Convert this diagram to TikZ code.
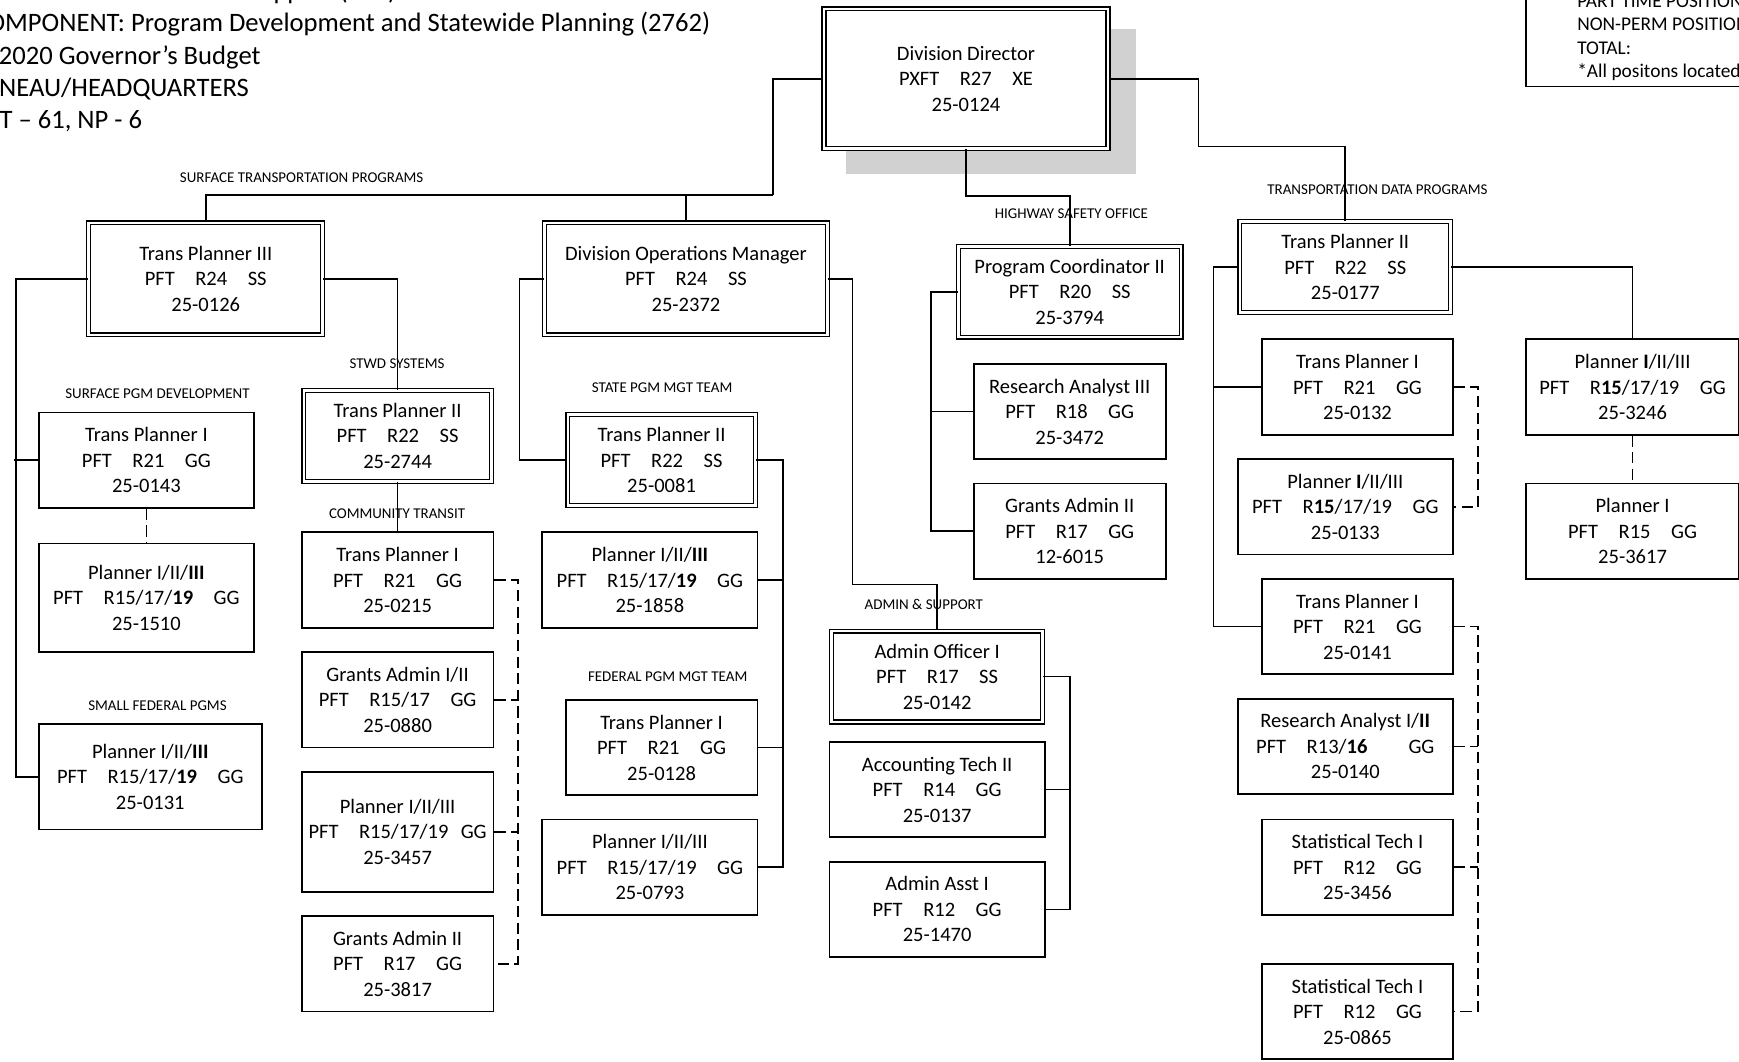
\documentclass[tikz,border=0pt]{standalone}
\usepackage{fontspec}
\setmainfont{Carlito}
\newcommand\possize{\fontsize{18.5}{23}\selectfont}
\newcommand\unitsize{\fontsize{13.5}{16}\selectfont}
\newcommand\gap{\hspace{1em}}
\tikzset{
  post/.style={draw, line width=1.6pt, fill=white, align=center, inner sep=0pt, font=\possize},
  lead/.style={post, double, double distance=2.4pt, line width=1.1pt},
  link/.style={line width=1.5pt},
  vacant/.style={line width=1.5pt, dash pattern=on 10pt off 5pt},
  unit/.style={font=\unitsize, inner sep=0pt},
}
\begin{document}
\begin{tikzpicture}[x=1pt, y=-1pt]
  \useasboundingbox (0,0) rectangle (1568,957);

  % heading and legend
  \node[font=\fontsize{24}{29}\selectfont, align=left, anchor=west, inner sep=0pt] (title) at (-24,50.5)
    {RDU: Administration and Support (546)\\COMPONENT: Program Development and Statewide Planning (2762)\\FY2020 Governor’s Budget\\JUNEAU/HEADQUARTERS\\PFT -- 61, NP - 6};
  \draw[link] (1376,-10) rectangle (1700,78);
  \node[font=\fontsize{17.5}{21}\selectfont, align=left, anchor=west, inner sep=0pt] (legend) at (1422,34)
    {PART TIME POSITIONS:\\NON-PERM POSITIONS:\\TOTAL:\\*All positons located in Juneau};

  % director
  \fill[black!18] (763,26) rectangle (1024,157);
  \node[lead, minimum width=256pt, minimum height=126pt] (dd) at (871,71) {Division Director\\PXFT\gap R27\gap XE\\25-0124};

  % section heads
  \node[lead, minimum width=211pt, minimum height=101pt] (tp3) at (185.5,251.5) {Trans Planner III\\PFT\gap R24\gap SS\\25-0126};
  \node[lead, minimum width=255pt, minimum height=101pt] (dom) at (618.5,251.5) {Division Operations Manager\\PFT\gap R24\gap SS\\25-2372};
  \node[lead, minimum width=201pt, minimum height=82pt] (pc) at (964.5,263) {Program Coordinator II\\PFT\gap R20\gap SS\\25-3794};
  \node[lead, minimum width=190pt, minimum height=82pt] (td) at (1213,241) {Trans Planner II\\PFT\gap R22\gap SS\\25-0177};

  % surface transportation programs
  \node[post, minimum width=194pt, minimum height=86pt] (tp0143) at (132,415) {Trans Planner I\\PFT\gap R21\gap GG\\25-0143};
  \node[post, minimum width=194pt, minimum height=98pt] (pl1510) at (132,539) {Planner I/II/\textbf{III}\\PFT\gap R15/17/\textbf{19}\gap GG\\25-1510};
  \node[post, minimum width=201pt, minimum height=95pt] (pl0131) at (135.5,700.5) {Planner I/II/\textbf{III}\\PFT\gap R15/17/\textbf{19}\gap GG\\25-0131};
  \node[lead, minimum width=169pt, minimum height=82pt] (tp2744) at (358.5,393) {Trans Planner II\\PFT\gap R22\gap SS\\25-2744};
  \node[post, minimum width=173pt, minimum height=86pt] (tp0215) at (358.5,523) {Trans Planner I\\PFT\gap R21\gap GG\\25-0215};
  \node[post, minimum width=173pt, minimum height=86pt] (ga0880) at (358.5,631) {Grants Admin I/II\\PFT\gap R15/17\gap GG\\25-0880};
  \node[post, minimum width=173pt, minimum height=108pt] (pl3457) at (358.5,750) {Planner I/II/III\\PFT\gap R15/17/19\hspace{0.6em}GG\\25-3457};
  \node[post, minimum width=173pt, minimum height=86pt] (ga3817) at (358.5,869) {Grants Admin II\\PFT\gap R17\gap GG\\25-3817};

  % operations
  \node[lead, minimum width=169pt, minimum height=82pt] (tp0081) at (596.5,415) {Trans Planner II\\PFT\gap R22\gap SS\\25-0081};
  \node[post, minimum width=194pt, minimum height=86pt] (pl1858) at (586,523) {Planner I/II/\textbf{III}\\PFT\gap R15/17/\textbf{19}\gap GG\\25-1858};
  \node[post, minimum width=173pt, minimum height=86pt] (tp0128) at (596.5,674) {Trans Planner I\\PFT\gap R21\gap GG\\25-0128};
  \node[post, minimum width=194pt, minimum height=86pt] (pl0793) at (586,782) {Planner I/II/III\\PFT\gap R15/17/19\gap GG\\25-0793};
  \node[lead, minimum width=190pt, minimum height=82pt] (ao) at (845,610) {Admin Officer I\\PFT\gap R17\gap SS\\25-0142};
  \node[post, minimum width=194pt, minimum height=86pt] (acct) at (845,712) {Accounting Tech II\\PFT\gap R14\gap GG\\25-0137};
  \node[post, minimum width=194pt, minimum height=86pt] (aa) at (845,820) {Admin Asst I\\PFT\gap R12\gap GG\\25-1470};

  % highway safety
  \node[post, minimum width=173pt, minimum height=86pt] (ra3472) at (964.5,371) {Research Analyst III\\PFT\gap R18\gap GG\\25-3472};
  \node[post, minimum width=173pt, minimum height=86pt] (ga6015) at (964.5,479) {Grants Admin II\\PFT\gap R17\gap GG\\12-6015};

  % transportation data
  \node[post, minimum width=172pt, minimum height=86pt] (tp0132) at (1224,349) {Trans Planner I\\PFT\gap R21\gap GG\\25-0132};
  \node[post, minimum width=194pt, minimum height=86pt] (pl0133) at (1213,457) {Planner \textbf{I}/II/III\\PFT\gap R\textbf{15}/17/19\gap GG\\25-0133};
  \node[post, minimum width=172pt, minimum height=86pt] (tp0141) at (1224,565) {Trans Planner I\\PFT\gap R21\gap GG\\25-0141};
  \node[post, minimum width=194pt, minimum height=86pt] (ra0140) at (1213,673) {Research Analyst I/\textbf{II}\\PFT\gap R13/\textbf{16}\hspace{2em}GG\\25-0140};
  \node[post, minimum width=172pt, minimum height=86pt] (st3456) at (1224,782) {Statistical Tech I\\PFT\gap R12\gap GG\\25-3456};
  \node[post, minimum width=172pt, minimum height=86pt] (st0865) at (1224,912) {Statistical Tech I\\PFT\gap R12\gap GG\\25-0865};
  \node[post, minimum width=192pt, minimum height=86pt] (pl3246) at (1472,349) {Planner \textbf{I}/II/III\\PFT\gap R\textbf{15}/17/19\gap GG\\25-3246};
  \node[post, minimum width=192pt, minimum height=86pt] (pl3617) at (1472,479) {Planner I\\PFT\gap R15\gap GG\\25-3617};

  % lines from the director
  \coordinate (jl) at (697,176);
  \draw[link] (dd.west) -| (jl);
  \draw[link] (tp3.north) |- (jl);
  \draw[link] (dom.north) -- (dom.north |- jl);
  \draw[link] (dd.south) -- ++(0,42) -| (pc.north);
  \draw[link] (dd.east) -| ++(81,61) -| (td.north);

  % surface lines
  \draw[link] (tp3.west) -- ++(-65,0) |- (pl0131.west);
  \draw[link] (tp0143.west) -- ++(-22,0);
  \draw[link] (tp3.east) -| (tp2744.north);
  \draw[vacant] (tp0143.south) -- (pl1510.north);
  \draw[link] (tp2744.south) -- (tp0215.north);
  \draw[vacant] (tp0215.east) -- ++(21,0) coordinate (sa) |- (ga3817.east);
  \draw[vacant] (ga0880.east) -- (sa |- ga0880.east);
  \draw[vacant] (pl3457.east) -- (sa |- pl3457.east);

  % operations lines
  \draw[link] (dom.west) -- ++(-22,0) |- (tp0081.west);
  \coordinate (ja) at (845,527);
  \draw[link] (dom.east) -- ++(22,0) |- (ja) -- (ao.north);
  \draw[link] (pl1858.east) -- ++(22,0) coordinate (sb) |- (pl0793.east);
  \draw[link] (tp0081.east) -| (sb);
  \draw[link] (tp0128.east) -- (sb |- tp0128.east);
  \draw[link] (aa.east) -- ++(22,0) coordinate (sc) |- (ao.east);
  \draw[link] (acct.east) -- (sc |- acct.east);

  % highway safety lines
  \draw[link] (ga6015.west) -- ++(-38,0) coordinate (sd) |- (ra3472.west);
  \draw[link] (pc.west) -| (sd);

  % data lines
  \draw[link] (tp0141.west) -- ++(-43,0) coordinate (se) |- (td.west);
  \draw[link] (tp0132.west) -- (se |- tp0132.west);
  \draw[link] (td.east) -| (pl3246.north);
  \draw[vacant] (tp0132.east) -- ++(22,0) |- (pl0133.east);
  \draw[vacant] (tp0141.east) -- ++(22,0) coordinate (sf) |- (st0865.east);
  \draw[vacant] (ra0140.east) -- (sf |- ra0140.east);
  \draw[vacant] (st3456.east) -- (sf |- st3456.east);
  \draw[vacant] (pl3246.south) -- (pl3617.north);

  % unit names
  \node[unit] (lsurf) at (272,160) {SURFACE TRANSPORTATION PROGRAMS};
  \node[unit] (lhso) at (966,193) {HIGHWAY SAFETY OFFICE};
  \node[unit] (ldata) at (1242,171) {TRANSPORTATION DATA PROGRAMS};
  \node[unit] (lspd) at (142,355) {SURFACE PGM DEVELOPMENT};
  \node[unit] (lstwd) at (358,328) {STWD SYSTEMS};
  \node[unit] (lcom) at (358,463) {COMMUNITY TRANSIT};
  \node[unit] (lsfp) at (142,636) {SMALL FEDERAL PGMS};
  \node[unit] (lstate) at (597,350) {STATE PGM MGT TEAM};
  \node[unit] (lfed) at (602,610) {FEDERAL PGM MGT TEAM};
  \node[unit] (ladm) at (833,545) {ADMIN \& SUPPORT};
\end{tikzpicture}
\end{document}
